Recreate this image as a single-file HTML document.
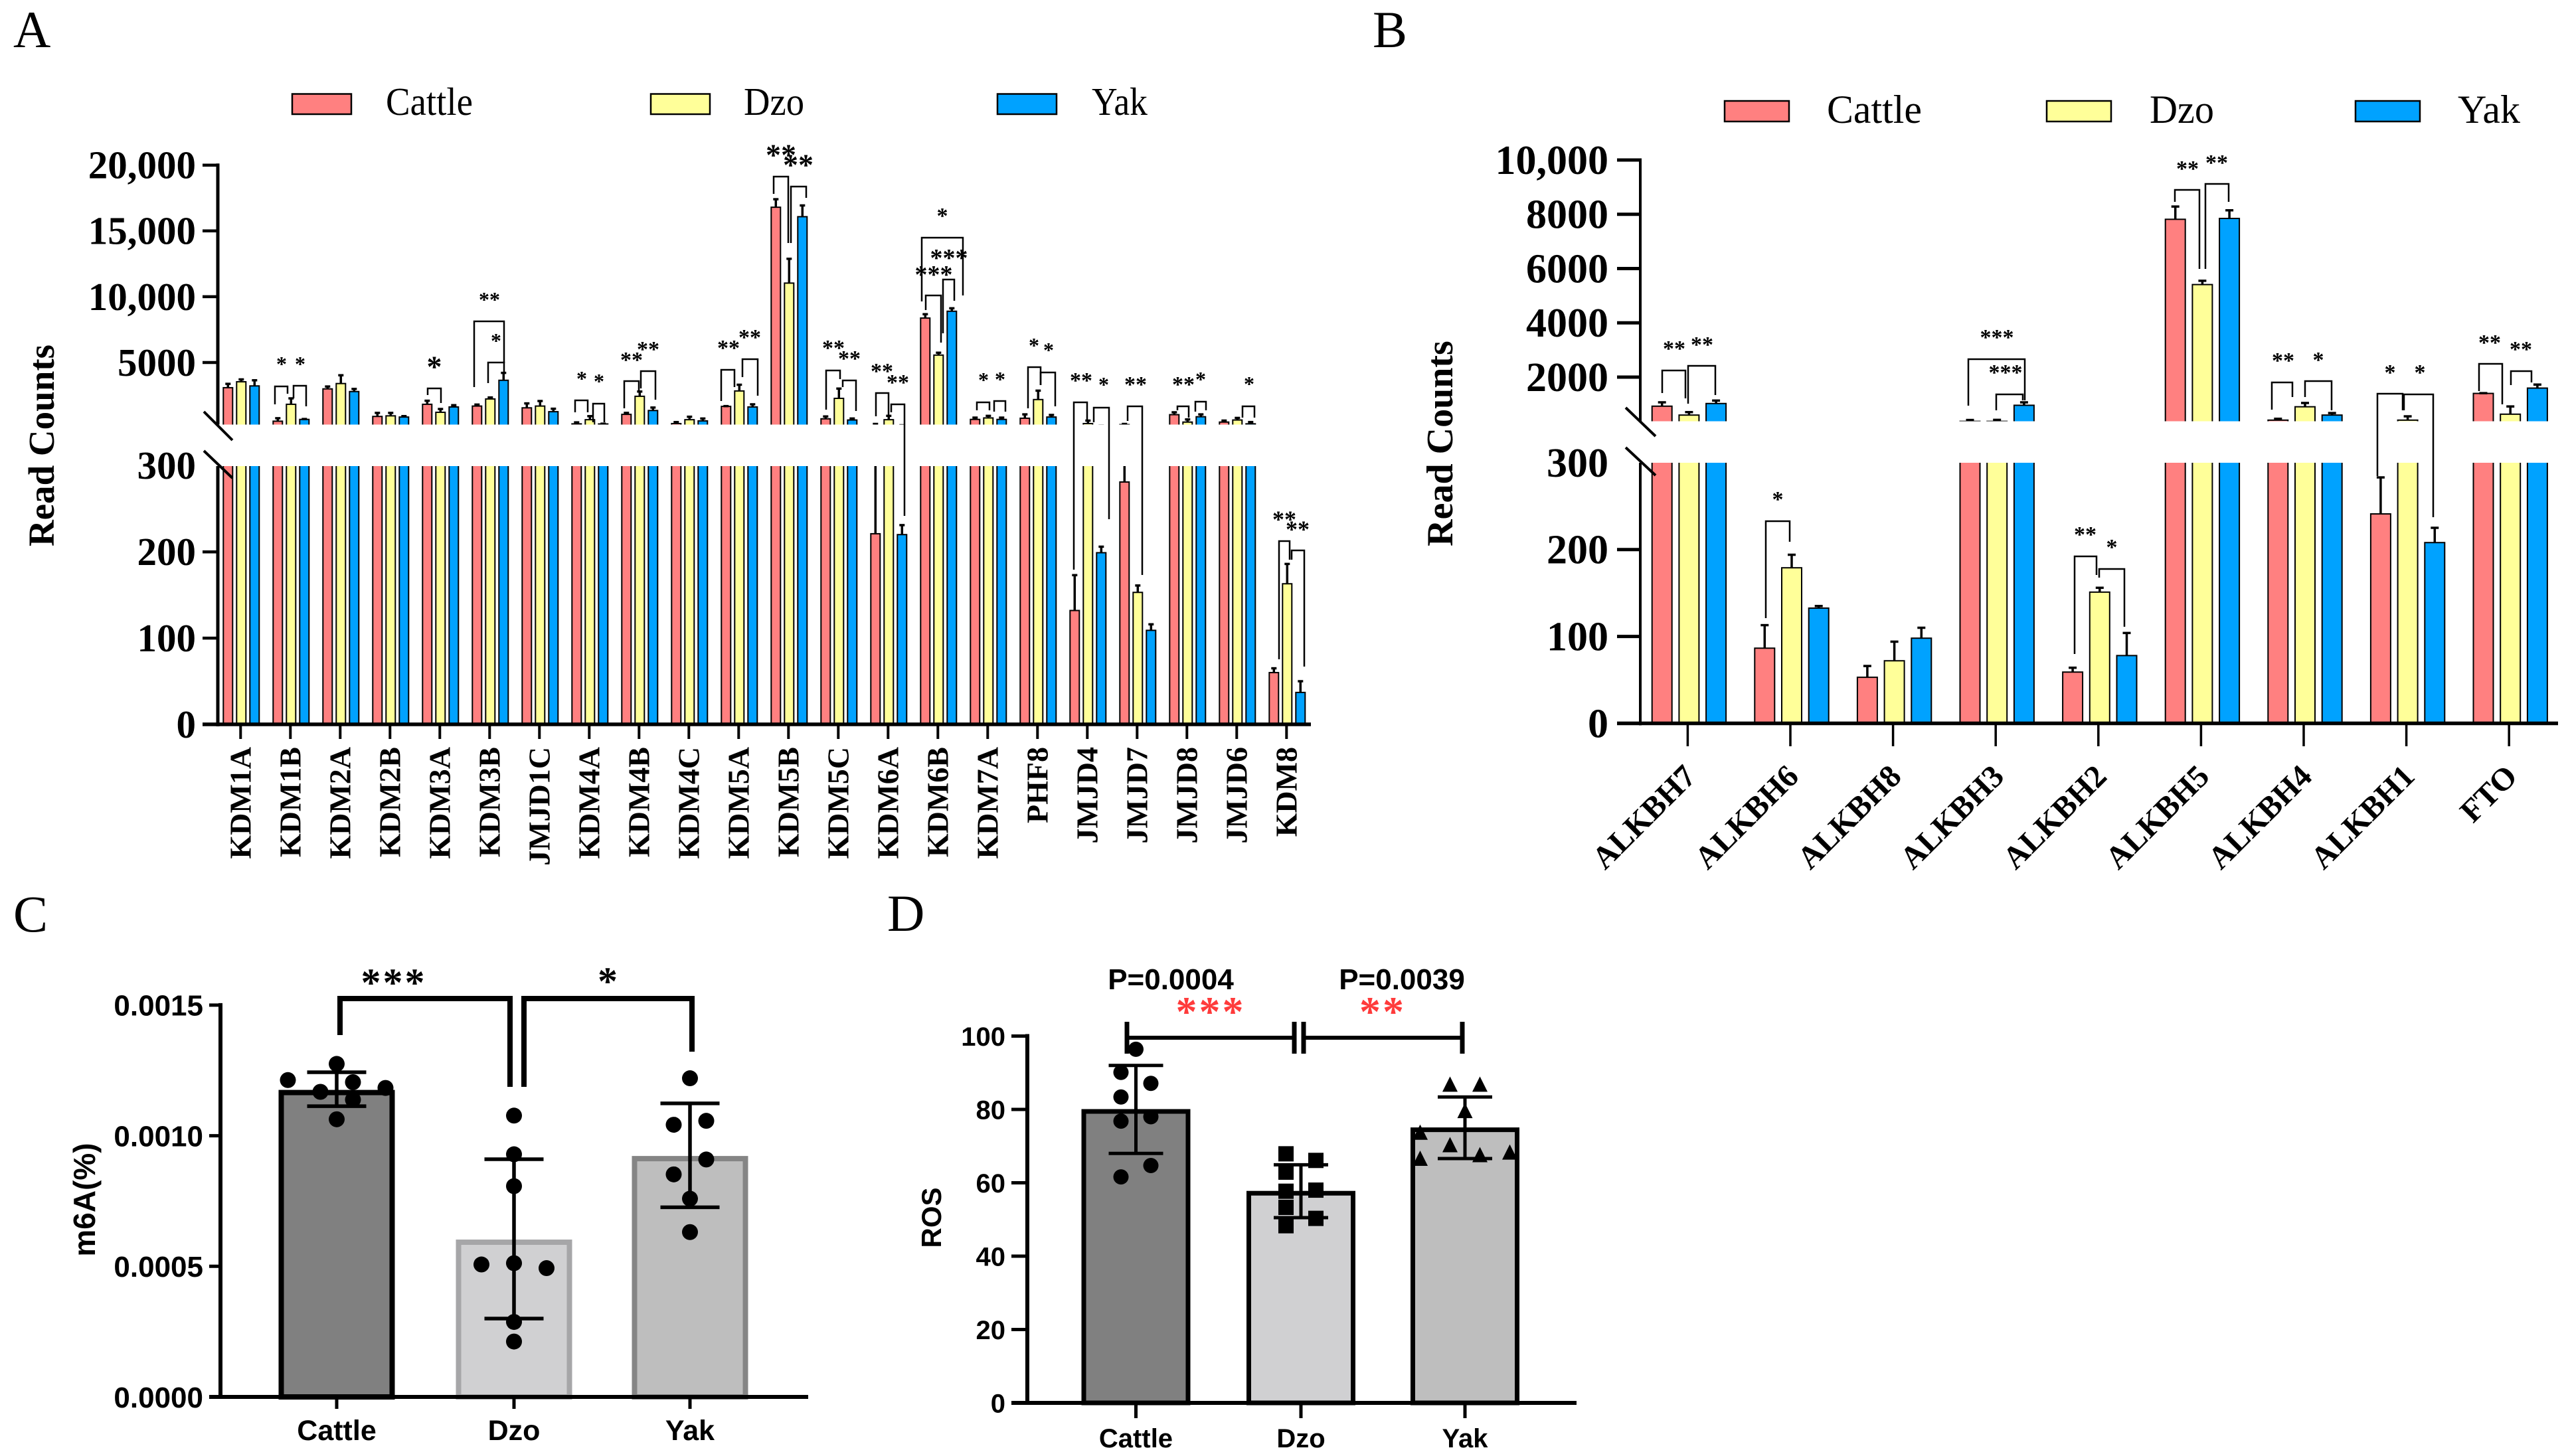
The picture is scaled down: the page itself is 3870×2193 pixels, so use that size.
<!DOCTYPE html>
<html lang="en">
<head>
<meta charset="utf-8">
<title>Read counts, m6A and ROS in Cattle, Dzo and Yak</title>
<style>
html,body{margin:0;padding:0;background:#fff;}
svg{display:block;}
</style>
</head>
<body>
<svg id="figure" width="3870" height="2193" viewBox="0 0 3870 2193">
<rect x="0" y="0" width="3870" height="2193" fill="#fff"/>
<defs>
<clipPath id="clip-a-upper"><rect x="300" y="150" width="1700" height="489.5"/></clipPath>
<clipPath id="clip-a-lower"><rect x="300" y="702" width="1700" height="389"/></clipPath>
<clipPath id="clip-b-upper"><rect x="2430" y="150" width="1430" height="484.5"/></clipPath>
<clipPath id="clip-b-lower"><rect x="2430" y="697" width="1430" height="392.5"/></clipPath>
</defs>
</svg>
<script>
/* ---------- Panel A data ---------- */
const categoriesA = ['KDM1A','KDM1B','KDM2A','KDM2B','KDM3A','KDM3B','JMJD1C','KDM4A','KDM4B','KDM4C','KDM5A','KDM5B','KDM5C','KDM6A','KDM6B','KDM7A','PHF8','JMJD4','JMJD7','JMJD8','JMJD6','KDM8'];
const cattleA = [3086,541,2996,901,1825,1690,1555,338,1059,360,1667,16800,721,221,8378,676,766,132,281,1036,473,60];
const dzoA = [3536,1825,3401,946,1217,2230,1690,654,2433,654,2838,11035,2275,654,5563,788,2185,360,153,473,631,163];
const yakA = [3221,676,2793,856,1622,3649,1262,330,1352,563,1622,16080,631,220,8896,676,856,199,109,878,340,37];
const cattleSdA = [293,225,180,270,270,113,338,113,113,113,20,608,180,110,293,135,293,41,50,180,113,5];
const dzoSdA = [180,450,630,225,250,113,383,270,360,225,473,1847,743,293,180,158,676,225,8,200,158,23];
const yakSdA = [428,30,200,70,135,563,225,20,225,180,200,856,113,11,225,135,158,7,7,180,135,13];
const upperTicksA = [5000,10000,15000,20000];
const upperTickLabelsA = ['5000','10,000','15,000','20,000'];
const lowerTicksA = [0,100,200,300];

/* ---------- Panel B data ---------- */
const categoriesB = ['ALKBH7','ALKBH6','ALKBH8','ALKBH3','ALKBH2','ALKBH5','ALKBH4','ALKBH1','FTO'];
const cattleB = [929,86.5,53,370,59,7815,415,241,1399];
const dzoB = [601,179,72,370,151,5410,907,415,634];
const yakB = [1027,132.6,98,962,78,7847,601,208,1595];
const cattleSdB = [142,26.5,13,50,5,470,50,42,10];
const dzoSdB = [109,15,22,55,5,140,140,140,285];
const yakSdB = [109,2.4,12,109,26,300,75,17,130];
const upperTicksB = [2000,4000,6000,8000,10000];
const upperTickLabelsB = ['2000','4000','6000','8000','10,000'];
const lowerTicksB = [0,100,200,300];

/* ---------- Panel C data ---------- */
const groupsC = ['Cattle','Dzo','Yak'];
const meansC = [0.001178,0.000605,0.000925];
const sdC = [0.000065,0.000305,0.000199];
const cattlePointsC = [0.001275,0.001213,0.001205,0.001183,0.001168,0.001138,0.001063];
const dzoPointsC = [0.001077,0.000929,0.000807,0.000507,0.000512,0.000493,0.000287,0.000212];
const yakPointsC = [0.00122,0.001042,0.001057,0.000909,0.000852,0.000759,0.000631];
const ticksC = [0,0.0005,0.001,0.0015];
const tickLabelsC = ['0.0000','0.0005','0.0010','0.0015'];

/* ---------- Panel D data ---------- */
const groupsD = ['Cattle','Dzo','Yak'];
const meansD = [80,57.7,75];
const sdD = [12,7.2,8.4];
const cattlePointsD = [96.4,90.1,87.1,83.4,78,76.8,64.7,61.6];
const dzoPointsD = [67.9,66.1,62.9,57.7,58,53.3,50.3,48.3];
const yakPointsD = [86.9,86.9,79.7,73.8,70.4,67.7,68.4,66.7];
const ticksD = [0,20,40,60,80,100];

/* ---------- helpers ---------- */
const svg = document.getElementById('figure');
const NS = svg.namespaceURI;
const SERIF = '"Liberation Serif", serif';
const SANS = '"Liberation Sans", sans-serif';
const COLORS = ['#FF8080','#FFFF99','#00A2FF'];
const SERIES = ['cattle','dzo','yak'];

function mk(tag, attrs, name, parent) {
  const el = document.createElementNS(NS, tag);
  for (const k in attrs) el.setAttribute(k, attrs[k]);
  
  
  (parent || svg).appendChild(el);
  return el;
}
function group(name, attrs, parent) { return mk('g', attrs || {}, name, parent); }
function line(p, x1, y1, x2, y2, w, name, color) {
  return mk('line', {x1, y1, x2, y2, stroke: color || '#000', 'stroke-width': w}, name, p);
}
function text(p, str, x, y, o) {
  const a = {x, y, 'font-family': o.family || SERIF, 'font-size': o.size, fill: o.fill || '#000'};
  if (o.weight) a['font-weight'] = o.weight;
  if (o.anchor) a['text-anchor'] = o.anchor;
  if (o.rotate) a.transform = 'rotate(' + o.rotate + ' ' + x + ' ' + y + ')';
  if (o.spacing) a['letter-spacing'] = o.spacing;
  if (o.length) { a.textLength = o.length; a.lengthAdjust = 'spacingAndGlyphs'; }
  const el = mk('text', a, o.name, p);
  el.textContent = str;
  return el;
}
function bracket(p, x1, x2, top, yl, yr, w, name, color) {
  mk('path', {d: 'M' + x1 + ' ' + yl + 'V' + top + 'H' + x2 + 'V' + yr, fill: 'none', stroke: color || '#000', 'stroke-width': w || 2.5}, name, p);
}
function stars(p, str, cx, cy, size, name) {
  text(p, str, cx, cy + size * 0.47, {size, weight: 'bold', anchor: 'middle', name});
}

/* ---------- panel letters ---------- */
text(svg, 'A', 20, 71, {size: 78, name: 'panel-label-a'});
text(svg, 'B', 2067, 71, {size: 78, name: 'panel-label-b'});
text(svg, 'C', 20, 1403, {size: 78, name: 'panel-label-c'});
text(svg, 'D', 1336, 1402, {size: 78, name: 'panel-label-d'});

/* ---------- legends ---------- */
function legend(p, boxes, yTop, h, w, baseline, size, labelXs, lengths) {
  ['Cattle','Dzo','Yak'].forEach(function (lab, i) {
    mk('rect', {x: boxes[i], y: yTop, width: w, height: h, fill: COLORS[i], stroke: '#000', 'stroke-width': 2.5}, 'legend-swatch-' + SERIES[i], p);
    text(p, lab, labelXs[i], baseline, {size, length: lengths[i], name: 'legend-label-' + SERIES[i]});
  });
}

/* ---------- broken-axis grouped bars ---------- */
function brokenChart(cfg) {
  const g = group(cfg.id + '-chart');
  const bars = group(cfg.id + '-bars', {}, g);
  [['upper', cfg.yU, cfg.clipU, cfg.breakU + 40], ['lower', cfg.yL, cfg.clipL, cfg.zeroY]].forEach(function (seg) {
    const sg = group(cfg.id + '-' + seg[0] + '-segment', {'clip-path': 'url(#' + seg[2] + ')'}, bars);
    cfg.categories.forEach(function (cat, i) {
      const cx = cfg.x(i) + cfg.barDx;
      cfg.series.forEach(function (vals, s) {
        const bx = cx + (s - 1) * cfg.pitch;
        const top = seg[1](vals[i]);
        const bottom = seg[3];
        mk('rect', {x: bx - cfg.barW / 2, y: Math.min(top, bottom), width: cfg.barW, height: Math.max(0, bottom - top), fill: COLORS[s], stroke: '#000', 'stroke-width': cfg.barStroke}, 'bar-' + cat.toLowerCase() + '-' + SERIES[s], sg);
        const et = seg[1](vals[i] + cfg.sds[s][i]);
        line(sg, bx, top, bx, et, cfg.errW, 'error-bar-' + cat.toLowerCase() + '-' + SERIES[s]);
        line(sg, bx - cfg.capW / 2, et, bx + cfg.capW / 2, et, cfg.errW, 'error-cap-' + cat.toLowerCase() + '-' + SERIES[s]);
      });
    });
  });
  /* axes */
  const ax = group(cfg.id + '-axes', {}, g);
  line(ax, cfg.axisX, cfg.yU(cfg.upperTicks[cfg.upperTicks.length - 1]) - 2.5, cfg.axisX, cfg.breakU, cfg.axisW, 'y-axis-upper');
  line(ax, cfg.axisX, cfg.clipLTop, cfg.axisX, cfg.zeroY + 3, cfg.axisW, 'y-axis-lower');
  line(ax, cfg.axisLeft, cfg.zeroY, cfg.axisRight, cfg.zeroY, cfg.xAxisW, 'x-axis');
  cfg.upperTicks.forEach(function (t, i) {
    const y = cfg.yU(t);
    line(ax, cfg.axisLeft, y, cfg.axisX, y, cfg.tickW, 'y-tick-' + t);
    text(ax, cfg.upperLabels[i], cfg.labelX, y + cfg.tickSize * 0.338, {size: cfg.tickSize, weight: 'bold', anchor: 'end', name: 'y-tick-label-' + t});
  });
  cfg.lowerTicks.forEach(function (t) {
    const y = cfg.yL(t);
    if (t !== 300) line(ax, cfg.axisLeft, y, cfg.axisX, y, cfg.tickW, 'y-tick-' + t);
    text(ax, String(t), cfg.labelX, y + cfg.tickSize * 0.338, {size: cfg.tickSize, weight: 'bold', anchor: 'end', name: 'y-tick-label-' + t});
  });
  cfg.slashes.forEach(function (s, i) {
    line(ax, s[0], s[1], s[2], s[3], 4, 'axis-break-mark-' + (i + 1));
  });
  cfg.categories.forEach(function (cat, i) {
    const cx = cfg.x(i);
    line(ax, cx, cfg.zeroY, cx, cfg.tickBottom, cfg.xTickW, 'x-tick-' + cat.toLowerCase());
    text(ax, cat, cx + cfg.labelDx, cfg.labelY, {size: cfg.catSize, weight: 'bold', anchor: 'end', rotate: cfg.rotate, name: 'x-tick-label-' + cat.toLowerCase()});
  });
  text(ax, 'Read Counts', cfg.titleX, cfg.titleY, {size: cfg.titleSize, weight: 'bold', anchor: 'middle', rotate: -90, name: 'y-axis-title'});
  return g;
}

/* Panel A */
const gA = brokenChart({
  id: 'panel-a', categories: categoriesA, series: [cattleA, dzoA, yakA], sds: [cattleSdA, dzoSdA, yakSdA],
  yU: function (v) { return 546 + (5000 - v) * 0.01982; },
  yL: function (v) { return 1091 - v * 1.299; },
  x: function (i) { return 362.3 + 75 * i; },
  barDx: 1,
  clipU: 'clip-a-upper', clipL: 'clip-a-lower', breakU: 639.5, clipLTop: 702, zeroY: 1091,
  pitch: 20, barW: 14, barStroke: 2, errW: 3.5, capW: 8,
  axisX: 328, axisW: 5, axisLeft: 305, axisRight: 1974, xAxisW: 5.5, tickW: 4.5, xTickW: 4,
  upperTicks: upperTicksA, upperLabels: upperTickLabelsA, lowerTicks: lowerTicksA,
  labelX: 295, tickSize: 59, tickBottom: 1113,
  slashes: [[307,620,350,663],[307,679,350,720]],
  catSize: 46, labelDx: 15, labelY: 1125, rotate: -90,
  titleX: 81, titleY: 671, titleSize: 55
});

/* Panel B */
const gB = brokenChart({
  id: 'panel-b', categories: categoriesB, series: [cattleB, dzoB, yakB], sds: [cattleSdB, dzoSdB, yakSdB],
  yU: function (v) { return 568 + (2000 - v) * 0.040875; },
  yL: function (v) { return 1089.5 - v * 1.309; },
  x: function (i) { return 2541.4 + 154.6 * i; },
  barDx: 2,
  clipU: 'clip-b-upper', clipL: 'clip-b-lower', breakU: 634.5, clipLTop: 697, zeroY: 1089.5,
  pitch: 40.7, barW: 30, barStroke: 2, errW: 3.5, capW: 12,
  axisX: 2470, axisW: 4, axisLeft: 2435, axisRight: 3852, xAxisW: 5.5, tickW: 5, xTickW: 3.5,
  upperTicks: upperTicksB, upperLabels: upperTickLabelsB, lowerTicks: lowerTicksB,
  labelX: 2422, tickSize: 62, tickBottom: 1124,
  slashes: [[2448,614,2493,657],[2448,674,2493,716]],
  catSize: 48, labelDx: 15, labelY: 1172, rotate: -45,
  titleX: 2187, titleY: 668, titleSize: 56
});

/* legends */
const legA = group('legend-a');
legend(legA, [440,980,1502], 141.5, 30.5, 89, 173, 59, [581,1120,1644], [131,91,84]);
const legB = group('legend-b');
legend(legB, [2597,3082,3547], 152, 31, 97, 185, 60, [2751,3237,3701], [143,97,94]);

/* annotations panel A */
const anA = group('panel-a-significance');
function bA(x1, x2, top, yl, yr) { bracket(anA, x1, x2, top, yl, yr, 2.5, 'significance-bracket'); }
function sA(s, x, y, size) { stars(anA, s, x, y, size || 32, 'significance-stars'); }
bA(414,433,582,609,593); bA(442,461,581,600,612); sA('*',424,544); sA('*',452,544);
bA(644,664,585,595,607); sA('*',654,546,46);
bA(714,759,484,583,547); sA('**',737,447); bA(735,759,546,577,562); sA('*',747,509);
bA(866,885,603,621,621); bA(893,910,608,636,636); sA('*',876,566); sA('*',902,570);
bA(940,962,574,615,589); bA(965,987,559,585,602); sA('**',951,537,34); sA('**',976,521,34);
bA(1086,1106,557,604,583); bA(1118,1141,541,568,596); sA('**',1097,519,34); sA('**',1129,503,34);
bA(1165,1187,266,292,366); bA(1191,1214,281,366,298); sA('**',1176,227,46); sA('**',1202,242,46);
bA(1244,1265,558,617,571); bA(1269,1289,573,583,619); sA('**',1255,519,34); sA('**',1279,535,34);
bA(1319,1338,592,627,625); bA(1342,1362,609,621,777); sA('**',1328,554,34); sA('**',1352,571,34);
bA(1388,1450,358,454,445); sA('*',1419,320,34);
bA(1394,1417,445,467,516); bA(1420,1437,421,502,453); sA('***',1406,408,38); sA('***',1429,383,38);
bA(1471,1490,606,618,618); bA(1497,1514,604,620,620); sA('*',1481,568); sA('*',1506,567);
bA(1548,1567,553,615,580); bA(1567,1589,561,580,612); sA('*',1557,516); sA('*',1579,523);
bA(1617,1637,606,858,634); bA(1647,1670,614,636,782); sA('**',1628,568,34); sA('*',1662,575);
bA(1698,1720,612,634,866); sA('**',1710,574,34);
bA(1773,1790,612,618,629); bA(1800,1816,605,620,618); sA('**',1782,574,34); sA('*',1808,567);
bA(1871,1889,612,629,629); sA('*',1881,574);
bA(1926,1942,815,993,843); bA(1945,1964,829,843,1004); sA('**',1934,777,36); sA('**',1954,792,36);

/* annotations panel B */
const anB = group('panel-b-significance');
function bB(x1, x2, top, yl, yr) { bracket(anB, x1, x2, top, yl, yr, 2.5, 'significance-bracket'); }
function sB(s, x, y, size) { stars(anB, s, x, y, size || 34, 'significance-stars'); }
bB(2503,2538,558,592,600); bB(2542,2583,551,608,595); sB('**',2521,520); sB('**',2563,514);
bB(2964,3049,541,611,603); bB(3006,3046,594,618,603); sB('***',3007,503); sB('***',3020,556);
bB(3275,3312,286,304,405); bB(3321,3356,277,405,304); sB('**',3294,249); sB('**',3338,240);
bB(3421,3452,576,617,598); bB(3471,3511,574,598,618); sB('**',3438,538); sB('*',3491,537);
bB(3580,3618,593,717,618); bB(3620,3664,594,618,779); sB('*',3599,556); sB('*',3644,556);
bB(3733,3768,548,589,609); bB(3781,3812,559,580,576); sB('**',3749,511); sB('**',3796,521);
bB(2659,2695,785,931,816); sB('*',2677,747);
bB(3124,3157,838,985,866); bB(3161,3199,857,870,944); sB('**',3140,800); sB('*',3180,819);

/* ---------- Panels C and D ---------- */
function plainChart(cfg) {
  const g = group(cfg.id + '-chart');
  const bars = group(cfg.id + '-bars', {}, g);
  cfg.groups.forEach(function (name, i) {
    const cx = cfg.xs[i], key = name.toLowerCase(), top = cfg.y(cfg.means[i]) + cfg.barInset;
    mk('rect', {x: cx - cfg.barW / 2, y: top, width: cfg.barW, height: cfg.zeroY - top, fill: cfg.fills[i], stroke: cfg.strokes[i], 'stroke-width': cfg.barStroke}, 'bar-' + key, bars);
  });
  cfg.groups.forEach(function (name, i) {
    const cx = cfg.xs[i], key = name.toLowerCase();
    const hi = cfg.y(cfg.means[i] + cfg.sd[i]), lo = cfg.y(cfg.means[i] - cfg.sd[i]);
    cfg.points[i].forEach(function (v, j) {
      const px = cx + cfg.slots[i][j] * cfg.slotW, py = cfg.y(v);
      const n = 'data-point-' + key;
      if (cfg.shapes[i] === 'circle') mk('ellipse', {cx: px, cy: py, rx: cfg.ms, ry: cfg.ms, fill: '#000'}, n, g);
      if (cfg.shapes[i] === 'square') mk('rect', {x: px - cfg.ms, y: py - cfg.ms, width: 2 * cfg.ms, height: 2 * cfg.ms, fill: '#000'}, n, g);
      if (cfg.shapes[i] === 'triangle') mk('polygon', {points: (px - cfg.ms) + ',' + (py + cfg.ms) + ' ' + (px + cfg.ms) + ',' + (py + cfg.ms) + ' ' + px + ',' + (py - cfg.ms), fill: '#000'}, n, g);
    });
    line(g, cx, hi, cx, lo, cfg.errW, 'error-bar-' + key);
    line(g, cx - cfg.capW / 2, hi, cx + cfg.capW / 2, hi, cfg.errW, 'error-cap-upper-' + key);
    line(g, cx - cfg.capW / 2, lo, cx + cfg.capW / 2, lo, cfg.errW, 'error-cap-lower-' + key);
  });
  const ax = group(cfg.id + '-axes', {}, g);
  line(ax, cfg.axisX, cfg.y(cfg.ticks[cfg.ticks.length - 1]) - 3, cfg.axisX, cfg.zeroY + 3, cfg.axisW, 'y-axis');
  line(ax, cfg.axisLeft, cfg.zeroY, cfg.axisRight, cfg.zeroY, cfg.axisW, 'x-axis');
  cfg.ticks.forEach(function (t, i) {
    const y = cfg.y(t);
    line(ax, cfg.axisLeft, y, cfg.axisX, y, cfg.tickW, 'y-tick-' + cfg.tickLabels[i]);
    text(ax, cfg.tickLabels[i], cfg.labelX, y + cfg.tickSize * 0.358, {family: SANS, size: cfg.tickSize, weight: 'bold', anchor: 'end', name: 'y-tick-label-' + cfg.tickLabels[i]});
  });
  cfg.groups.forEach(function (name, i) {
    const cx = cfg.xs[i], key = name.toLowerCase();
    line(ax, cx, cfg.zeroY, cx, cfg.tickBottom, cfg.tickW, 'x-tick-' + key);
    text(ax, name, cx, cfg.catBaseline, {family: SANS, size: cfg.catSize, weight: 'bold', anchor: 'middle', name: 'x-tick-label-' + key});
  });
  text(ax, cfg.title, cfg.titleX, cfg.titleY, {family: SANS, size: cfg.titleSize, weight: 'bold', anchor: 'middle', rotate: -90, name: 'y-axis-title'});
  return g;
}

plainChart({
  id: 'panel-c', groups: groupsC, means: meansC, sd: sdC,
  points: [cattlePointsC, dzoPointsC, yakPointsC],
  slots: [[0,-3,1,3,-1,1,0],[0,0,0,-2,0,2,0,0],[0,-1,1,1,-1,0,0]], slotW: 24.5,
  shapes: ['circle','circle','circle'], ms: 12,
  y: function (v) { return 2104 - v * 393400; },
  xs: [507,774,1039], zeroY: 2104, barW: 167, barStroke: 8, barInset: 5,
  fills: ['#808080','#D0D0D2','#BEBEBE'], strokes: ['#000','#A6A6A8','#858585'],
  errW: 5.5, capW: 89, axisX: 332, axisW: 6, axisLeft: 315, axisRight: 1217, tickW: 5,
  ticks: ticksC, tickLabels: tickLabelsC, labelX: 306, tickSize: 44, tickBottom: 2122,
  catBaseline: 2169, catSize: 43, title: 'm6A(%)', titleX: 143, titleY: 1807, titleSize: 46
});
const anC = group('panel-c-significance');
bracket(anC, 512, 768, 1504, 1559, 1637, 8, 'significance-bracket-cattle-dzo');
bracket(anC, 789, 1042, 1504, 1637, 1584, 8, 'significance-bracket-dzo-yak');
text(anC, '***', 593, 1500, {size: 60, anchor: 'middle', spacing: 3, weight: 'bold', name: 'significance-stars-cattle-dzo'});
text(anC, '*', 915, 1498, {size: 60, anchor: 'middle', weight: 'bold', name: 'significance-stars-dzo-yak'});

plainChart({
  id: 'panel-d', groups: groupsD, means: meansD, sd: sdD,
  points: [cattlePointsD, dzoPointsD, yakPointsD],
  slots: [[0,-1,1,-1,1,-1,1,-1],[-1,1,-1,-1,1,-1,1,-1],[-1,1,0,-3,-1,1,3,-3]], slotW: 22.5,
  shapes: ['circle','square','triangle'], ms: 11.5,
  y: function (v) { return 2113 - v * 5.525; },
  xs: [1710.5,1959,2206], zeroY: 2113, barW: 157, barStroke: 7, barInset: 3,
  fills: ['#808080','#D0D0D2','#BEBEBE'], strokes: ['#000','#000','#000'],
  errW: 5, capW: 82, axisX: 1547, axisW: 6, axisLeft: 1523, axisRight: 2374, tickW: 5,
  ticks: ticksD, tickLabels: ticksD.map(String), labelX: 1514, tickSize: 40, tickBottom: 2136,
  catBaseline: 2180, catSize: 40, title: 'ROS', titleX: 1417, titleY: 1834, titleSize: 42
});
const anD = group('panel-d-significance');
line(anD, 1697, 1563, 1949, 1563, 6, 'significance-line-cattle-dzo');
line(anD, 1963, 1563, 2202, 1563, 6, 'significance-line-dzo-yak');
[1697,1949,1963,2202].forEach(function (x) {
  line(anD, x, 1539, x, 1587, 7, 'significance-line-cap');
});
text(anD, 'P=0.0004', 1763, 1490, {family: SANS, size: 44, weight: 'bold', anchor: 'middle', name: 'p-value-cattle-dzo'});
text(anD, 'P=0.0039', 2111, 1490, {family: SANS, size: 44, weight: 'bold', anchor: 'middle', name: 'p-value-dzo-yak'});
text(anD, '***', 1823, 1545, {size: 64, anchor: 'middle', weight: 'bold', fill: '#FF3B3B', spacing: 3, name: 'significance-stars-cattle-dzo'});
text(anD, '**', 2082, 1545, {size: 64, anchor: 'middle', weight: 'bold', fill: '#FF3B3B', spacing: 3, name: 'significance-stars-dzo-yak'});
</script>
</body>
</html>
